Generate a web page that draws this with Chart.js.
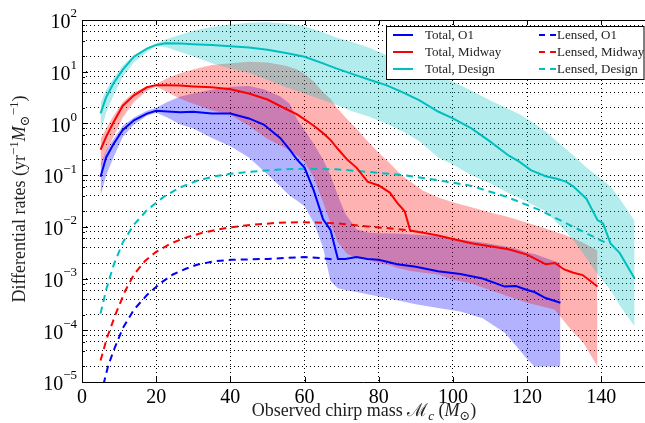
<!DOCTYPE html>
<html lang="en">
<head>
  <meta charset="UTF-8">
  <title>Differential rates vs chirp mass</title>
  <script src="https://cdn.jsdelivr.net/npm/chart.js"></script>
  <style>
    body { margin: 0; background: #fff; }
  </style>
</head>
<body>
<canvas id="ratesChart" width="645" height="423"></canvas>

<script>
  // chirp mass grids (M_sun) and rates (yr^-1 M_sun^-1)
  var massO1 = [5, 6.5, 8.5, 11, 14, 17.5, 20, 23, 26.5, 30, 35, 40, 45, 49, 53.5, 56, 58, 60, 62.5, 65, 67, 69, 71, 74, 77, 80, 85, 90, 96, 102, 108, 114, 117, 120, 122, 125, 129];
  var totalO1 = [0.093, 0.22, 0.4, 0.75, 1.15, 1.55, 1.75, 1.7, 1.65, 1.68, 1.55, 1.55, 1.25, 0.95, 0.52, 0.31, 0.2, 0.14, 0.05, 0.014, 0.0087, 0.0024, 0.0024, 0.0026, 0.0024, 0.0023, 0.0019, 0.0017, 0.00138, 0.00122, 0.001, 0.0007, 0.00072, 0.0006, 0.00055, 0.00042, 0.00034];
  var upperO1 = [0.16, 0.3, 0.5, 0.9, 1.3, 1.75, 2.0, 2.6, 3.3, 3.8, 4.5, 5.1, 5.3, 4.6, 3.3, 2.4, 1.2, 0.75, 0.4, 0.2, 0.1, 0.04, 0.018, 0.009, 0.0078, 0.0075, 0.0074, 0.007, 0.0066, 0.0057, 0.005, 0.0042, 0.0038, 0.0032, 0.003, 0.0025, 0.002];
  var lowerO1 = [0.04, 0.1, 0.22, 0.55, 0.95, 1.4, 1.6, 1.3, 0.95, 0.8, 0.52, 0.36, 0.22, 0.12, 0.06, 0.04, 0.032, 0.025, 0.012, 0.004, 0.0009, 0.00065, 0.0006, 0.00055, 0.0005, 0.00045, 0.00038, 0.00032, 0.00027, 0.00023, 0.00017, 0.00009, 0.00005, 0.000028, 0.00002, 0.00002, 0.00002];

  var massMid = [5, 6.5, 8.5, 11, 14, 17.5, 20, 23, 26.5, 30, 35, 40, 45, 50, 55, 58, 60, 62.5, 65, 67, 69, 71.5, 74, 77, 80, 83, 85, 87, 88.5, 92, 96, 100, 105, 110, 115, 120, 125, 127.5, 130, 132.5, 135, 139];
  var totalMid = [0.31, 0.55, 1.05, 2.2, 3.5, 5.0, 5.5, 5.5, 5.4, 5.2, 5.0, 4.6, 3.8, 2.9, 1.9, 1.5, 1.2, 0.9, 0.65, 0.48, 0.32, 0.2, 0.14, 0.075, 0.063, 0.046, 0.029, 0.02, 0.0085, 0.0077, 0.0068, 0.0058, 0.0048, 0.0042, 0.0037, 0.0029, 0.0019, 0.002, 0.0015, 0.0013, 0.00117, 0.0007];
  var upperMid = [0.5, 0.8, 1.4, 2.6, 4.0, 5.2, 5.8, 7.5, 9.3, 11, 13.5, 14.5, 15.5, 15, 13, 11, 9, 6.5, 4, 3, 1.9, 1.2, 0.8, 0.45, 0.27, 0.17, 0.12, 0.09, 0.075, 0.05, 0.037, 0.03, 0.024, 0.019, 0.0155, 0.012, 0.0093, 0.008, 0.007, 0.006, 0.005, 0.0035];
  var lowerMid = [0.14, 0.28, 0.55, 1.3, 2.6, 4.3, 5.2, 4.0, 3.0, 2.4, 1.8, 1.45, 0.9, 0.5, 0.33, 0.24, 0.18, 0.09, 0.03, 0.012, 0.005, 0.003, 0.0025, 0.0023, 0.002, 0.0018, 0.0016, 0.0015, 0.0014, 0.0013, 0.0012, 0.00095, 0.0008, 0.0006, 0.00045, 0.00034, 0.00028, 0.00025, 0.00015, 0.00009, 0.00006, 0.00002];

  var massDes = [5, 6.5, 8.5, 11, 14, 17.5, 20, 22.5, 26.5, 30, 35, 40, 45, 50, 55, 60, 65, 68.5, 73, 77.5, 82, 86.5, 91, 96, 100, 105, 110, 115, 118, 121, 125, 128, 130.5, 132.5, 136, 139, 140.5, 142.5, 145, 149];
  var totalDes = [1.57, 3.2, 6.0, 11, 19.5, 28, 33, 35.4, 35, 34, 33, 31, 29.5, 26.5, 23, 19.5, 14.5, 11.6, 9.0, 7.0, 5.5, 4.0, 2.8, 1.7, 1.25, 0.8, 0.45, 0.24, 0.18, 0.125, 0.095, 0.085, 0.075, 0.06, 0.035, 0.0135, 0.0117, 0.0048, 0.0031, 0.001];
  var upperDes = [2.5, 4.5, 7.5, 13, 21, 29, 35, 42, 52, 62, 73, 82, 88, 90, 86, 76, 58, 46, 37, 29, 21, 14, 11, 8, 6.5, 4.3, 2.8, 1.9, 1.5, 1.1, 0.7, 0.45, 0.32, 0.24, 0.14, 0.095, 0.08, 0.06, 0.035, 0.013];
  var lowerDes = [0.69, 1.6, 3.5, 8, 15, 24, 31, 30, 24, 20, 14.5, 11.5, 9.5, 7, 5, 3.8, 2.8, 2.3, 1.7, 1.35, 1.0, 0.7, 0.45, 0.22, 0.16, 0.1, 0.07, 0.045, 0.036, 0.028, 0.02, 0.012, 0.008, 0.0055, 0.0025, 0.0012, 0.0009, 0.0006, 0.0003, 0.00012];

  // lensed-only rates
  var lensMassO1 = [5.8, 7, 8.5, 11, 14, 17.5, 21, 24.5, 28, 31, 35.5, 40, 45, 50, 55, 60, 64, 68];
  var lensedO1 = [0.000009, 0.00002, 0.00004, 0.00011, 0.00025, 0.00048, 0.0008, 0.0012, 0.00155, 0.00185, 0.00215, 0.0023, 0.00235, 0.0024, 0.0025, 0.0026, 0.0025, 0.00235];
  var lensMassMid = [5, 6.7, 9, 11.5, 14, 17, 20, 24, 28, 32, 36, 40, 46, 53, 60, 68, 77, 84, 88.5];
  var lensedMid = [0.000026, 0.00007, 0.0002, 0.00055, 0.0012, 0.0022, 0.0033, 0.0048, 0.0062, 0.0075, 0.0087, 0.0098, 0.011, 0.012, 0.0123, 0.0118, 0.0102, 0.0092, 0.0085];
  var lensMassDes = [5, 6.5, 8.5, 11, 14, 17.5, 22, 26.5, 31, 35.5, 40, 45, 53, 60, 68.5, 77.5, 86.5, 96, 105, 114.5, 123.5, 132.5, 141.5];
  var lensedDes = [0.00021, 0.0006, 0.0018, 0.005, 0.011, 0.021, 0.038, 0.058, 0.078, 0.094, 0.106, 0.116, 0.128, 0.133, 0.13, 0.115, 0.1, 0.08, 0.062, 0.038, 0.021, 0.01, 0.0048];

  var xTicks = [0, 20, 40, 60, 80, 100, 120, 140];
  var yDecades = [-5, -4, -3, -2, -1, 0, 1, 2];
  var yMinorSteps = [1, 2, 4, 6, 8];

  var blue = '#0000ff', red = '#ff0000', cyan = '#00bfbf';
  var serif = "'Liberation Serif', 'DejaVu Serif', serif";

  function pts(xs, ys) {
    return xs.map(function(x, i) { return {x: x, y: ys[i]}; });
  }

  function line(label, xs, ys, color, dashed) {
    return {
      label: label, data: pts(xs, ys), borderColor: color, borderWidth: 2,
      borderDash: dashed ? [7, 5] : [], pointRadius: 0, fill: false
    };
  }

  function band(xs, ys, fillColor, fillTo) {
    return {
      data: pts(xs, ys), borderWidth: 0, borderColor: 'rgba(0,0,0,0)',
      backgroundColor: fillColor, pointRadius: 0, fill: fillTo
    };
  }

  // grid values on the log axis: 1, 2, 4, 6, 8 in every decade
  var yTickValues = [];
  yDecades.forEach(function(d) {
    yMinorSteps.forEach(function(k) {
      if (d === 2 && k > 1) return;
      yTickValues.push(Number((k * Math.pow(10, d)).toPrecision(3)));
    });
  });

  function partFont(p, size) {
    var s = (p.sup || p.sub) ? Math.round(size * 0.7) : size;
    return (p.it ? 'italic ' : '') + s + 'px ' + serif;
  }

  function richText(ctx, parts, cx, cy, size) {
    var widths = parts.map(function(p) { ctx.font = partFont(p, size); return ctx.measureText(p.t).width; });
    var total = widths.reduce(function(a, b) { return a + b; }, 0);
    var x = cx - total / 2;
    ctx.textAlign = 'left';
    ctx.textBaseline = 'alphabetic';
    parts.forEach(function(p, i) {
      ctx.font = partFont(p, size);
      var dy = p.sup ? -size * 0.38 : (p.sub ? size * 0.22 : 0);
      ctx.fillText(p.t, x, cy + dy);
      x += widths[i];
    });
  }

  var decorations = {
    id: 'decorations',
    afterDraw: function(chart) {
      var ctx = chart.ctx, area = chart.chartArea;
      var xs = chart.scales.x, ys = chart.scales.y;
      ctx.save();

      // frame and inward ticks
      ctx.strokeStyle = '#000';
      ctx.lineWidth = 1;
      ctx.beginPath();
      ctx.moveTo(area.right, Math.round(area.top) + 0.5);
      ctx.lineTo(Math.round(area.left) + 0.5, Math.round(area.top) + 0.5);
      ctx.lineTo(Math.round(area.left) + 0.5, Math.round(area.bottom) + 0.5);
      ctx.lineTo(area.right, Math.round(area.bottom) + 0.5);
      xTicks.forEach(function(v) {
        var px = Math.round(xs.getPixelForValue(v)) + 0.5;
        ctx.moveTo(px, area.bottom); ctx.lineTo(px, area.bottom - 5);
        ctx.moveTo(px, area.top); ctx.lineTo(px, area.top + 5);
      });
      yTickValues.forEach(function(v) {
        var py = Math.round(ys.getPixelForValue(v)) + 0.5;
        var major = Math.abs(Math.log10(v) - Math.round(Math.log10(v))) < 1e-6;
        ctx.moveTo(area.left, py); ctx.lineTo(area.left + (major ? 6 : 3), py);
      });
      ctx.stroke();

      // y tick labels 10^n
      ctx.fillStyle = '#000';
      yDecades.forEach(function(d) {
        var py = ys.getPixelForValue(Math.pow(10, d));
        var exp = d < 0 ? '\u2212' + (-d) : String(d);
        ctx.font = '13px ' + serif;
        var we = ctx.measureText(exp).width;
        ctx.textBaseline = 'middle';
        ctx.textAlign = 'left';
        ctx.fillText(exp, 77 - we, py - 6);
        ctx.font = '20px ' + serif;
        ctx.textAlign = 'right';
        ctx.fillText('10', 77 - we, py + 3);
      });

      // axis titles
      ctx.fillStyle = '#222';
      richText(ctx, [
        {t: 'Observed chirp mass '}, {t: '\u2133'}, {t: 'c', sub: true, it: true},
        {t: ' ('}, {t: 'M', it: true}, {t: '\u2299', sub: true}, {t: ')'}
      ], 364, 416, 18);
      ctx.save();
      ctx.translate(19, 199);
      ctx.rotate(-Math.PI / 2);
      richText(ctx, [
        {t: 'Differential rates ('}, {t: 'yr'}, {t: '\u22121', sup: true},
        {t: 'M', it: true}, {t: '\u2299', sub: true}, {t: '\u22121', sup: true}, {t: ')'}
      ], 0, 6, 18);
      ctx.restore();

      // legend box, two columns
      var bx = 386.5, by = 26.5, bw = 257.5, bh = 53;
      ctx.fillStyle = '#fff';
      ctx.fillRect(bx, by, bw, bh);
      ctx.strokeStyle = '#000';
      ctx.strokeRect(bx, by, bw, bh);
      var rows = [
        ['Total, O1', blue], ['Total, Midway', red], ['Total, Design', cyan]
      ];
      ctx.font = '13px ' + serif;
      ctx.textBaseline = 'middle';
      ctx.textAlign = 'left';
      rows.forEach(function(r, i) {
        var ry = 35 + i * 17;
        ctx.lineWidth = 2;
        ctx.strokeStyle = r[1];
        ctx.setLineDash([]);
        ctx.beginPath(); ctx.moveTo(393, ry); ctx.lineTo(413, ry); ctx.stroke();
        ctx.setLineDash([6, 5]);
        ctx.beginPath(); ctx.moveTo(539, ry); ctx.lineTo(556, ry); ctx.stroke();
        ctx.setLineDash([]);
        ctx.fillStyle = '#222';
        ctx.fillText(r[0], 425, ry + 1);
        ctx.fillText(r[0].replace('Total', 'Lensed'), 557, ry + 1);
      });
      ctx.restore();
    }
  };

  var ctx = document.getElementById('ratesChart').getContext('2d');
  var ratesChart = new Chart(ctx, {
    type: 'line',
    data: {
      datasets: [
        line('Total, O1', massO1, totalO1, blue, false),
        line('Total, Midway', massMid, totalMid, red, false),
        line('Total, Design', massDes, totalDes, cyan, false),
        line('Lensed, O1', lensMassO1, lensedO1, blue, true),
        line('Lensed, Midway', lensMassMid, lensedMid, red, true),
        line('Lensed, Design', lensMassDes, lensedDes, cyan, true),
        band(massDes, upperDes, 'rgba(0,191,191,0.3)', '+1'),
        band(massDes, lowerDes, 'rgba(0,0,0,0)', false),
        band(massMid, upperMid, 'rgba(255,0,0,0.3)', '+1'),
        band(massMid, lowerMid, 'rgba(0,0,0,0)', false),
        band(massO1, upperO1, 'rgba(0,0,255,0.3)', '+1'),
        band(massO1, lowerO1, 'rgba(0,0,0,0)', false)
      ]
    },
    options: {
      responsive: false,
      animation: false,
      layout: { padding: { top: 20, right: 0, left: 0, bottom: 0 } },
      elements: { line: { tension: 0 } },
      plugins: { legend: { display: false }, tooltip: { enabled: false } },
      scales: {
        x: {
          type: 'linear', min: 0, max: 151.8,
          afterBuildTicks: function(s) { s.ticks = xTicks.map(function(v) { return {value: v}; }); },
          afterFit: function(s) { s.height = 41; },
          grid: { color: '#000', lineWidth: 1, drawTicks: false },
          border: { display: false, dash: [1, 3] },
          ticks: { color: '#000', font: { family: serif, size: 20 }, padding: 4, maxRotation: 0 }
        },
        y: {
          type: 'logarithmic', min: 1e-5, max: 100,
          afterBuildTicks: function(s) { s.ticks = yTickValues.map(function(v) { return {value: v}; }); },
          afterFit: function(s) { s.width = 82; },
          grid: { color: '#000', lineWidth: 1, drawTicks: false },
          border: { display: false, dash: [1, 3] },
          ticks: { display: false }
        }
      }
    },
    plugins: [decorations]
  });
</script>
</body>
</html>
